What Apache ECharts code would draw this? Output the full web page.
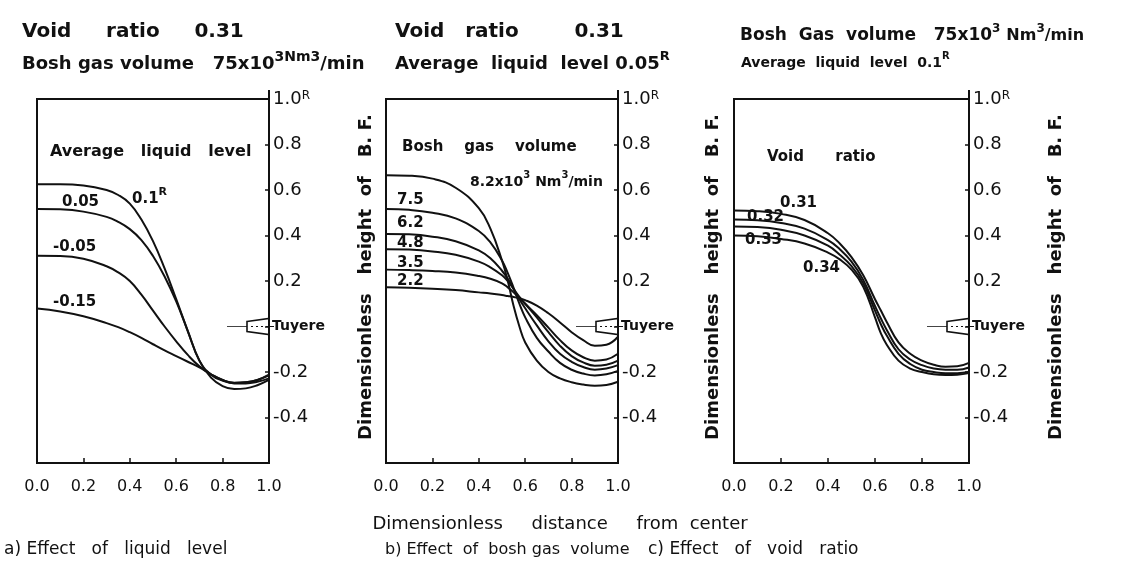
<!DOCTYPE html>
<html>
<head>
<meta charset="utf-8">
<script src="https://cdn.jsdelivr.net/npm/echarts@6/dist/echarts.min.js"></script>
<style>
  html, body { margin: 0; padding: 0; background: #fff; }
  #chart { width: 1127px; height: 573px; }
</style>
</head>
<body>
<div id="chart"></div>
<script>
// ---------- axis ticks ----------
const xTickValues = [0, 0.2, 0.4, 0.6, 0.8, 1.0];
const xTickLabels = ['0.0', '0.2', '0.4', '0.6', '0.8', '1.0'];
const yTickValues = [-0.4, -0.2, 0.2, 0.4, 0.6, 0.8, 1.0];
const yTickLabels = ['-0.4', '-0.2', '0.2', '0.4', '0.6', '0.8', '1.0{r|R}'];

// ---------- a) effect of liquid level ----------
const distA = [0, 0.1, 0.2, 0.3, 0.35, 0.4, 0.45, 0.5, 0.55, 0.6, 0.65, 0.7, 0.75, 0.8, 0.85, 0.9, 0.95, 1.0];
const level_010  = [0.625, 0.625, 0.62, 0.6, 0.578, 0.54, 0.47, 0.375, 0.255, 0.12, -0.02, -0.15, -0.225, -0.262, -0.275, -0.272, -0.258, -0.235];
const level_005  = [0.517, 0.515, 0.505, 0.482, 0.46, 0.428, 0.38, 0.31, 0.22, 0.11, -0.02, -0.15, -0.212, -0.238, -0.248, -0.245, -0.235, -0.212];
const level_m005 = [0.311, 0.31, 0.298, 0.265, 0.238, 0.2, 0.14, 0.07, 0.0, -0.065, -0.125, -0.175, -0.21, -0.235, -0.247, -0.245, -0.235, -0.215];
const level_m015 = [0.079, 0.066, 0.045, 0.015, -0.003, -0.025, -0.05, -0.078, -0.105, -0.13, -0.155, -0.18, -0.21, -0.235, -0.25, -0.25, -0.243, -0.228];

// ---------- b) effect of bosh gas volume ----------
const distB = [0, 0.1, 0.2, 0.3, 0.4, 0.45, 0.5, 0.525, 0.55, 0.575, 0.6, 0.65, 0.7, 0.75, 0.8, 0.85, 0.9, 0.95, 1.0];
const gas_82 = [0.665, 0.663, 0.65, 0.61, 0.52, 0.43, 0.29, 0.20, 0.09, 0.0, -0.07, -0.15, -0.2, -0.228, -0.245, -0.255, -0.26, -0.257, -0.243];
const gas_75 = [0.517, 0.513, 0.50, 0.475, 0.42, 0.37, 0.29, 0.235, 0.17, 0.10, 0.04, -0.05, -0.11, -0.16, -0.19, -0.207, -0.215, -0.21, -0.195];
const gas_62 = [0.407, 0.405, 0.395, 0.375, 0.335, 0.30, 0.245, 0.21, 0.165, 0.12, 0.08, 0.005, -0.065, -0.12, -0.155, -0.178, -0.19, -0.185, -0.17];
const gas_48 = [0.34, 0.338, 0.33, 0.315, 0.285, 0.26, 0.225, 0.20, 0.165, 0.13, 0.10, 0.04, -0.025, -0.085, -0.13, -0.158, -0.172, -0.168, -0.15];
const gas_35 = [0.25, 0.248, 0.244, 0.237, 0.222, 0.21, 0.19, 0.172, 0.15, 0.125, 0.10, 0.05, -0.005, -0.06, -0.105, -0.135, -0.15, -0.145, -0.12];
const gas_22 = [0.172, 0.17, 0.166, 0.16, 0.15, 0.145, 0.138, 0.134, 0.13, 0.124, 0.116, 0.092, 0.058, 0.018, -0.025, -0.06, -0.085, -0.08, -0.045];

// ---------- c) effect of void ratio ----------
const distC = [0, 0.1, 0.2, 0.3, 0.4, 0.45, 0.5, 0.55, 0.6, 0.625, 0.65, 0.7, 0.75, 0.8, 0.85, 0.9, 0.95, 1.0];
const void_031 = [0.51, 0.507, 0.495, 0.468, 0.41, 0.365, 0.305, 0.225, 0.12, 0.07, 0.02, -0.07, -0.12, -0.15, -0.168, -0.177, -0.175, -0.16];
const void_032 = [0.47, 0.467, 0.455, 0.43, 0.38, 0.34, 0.285, 0.205, 0.09, 0.035, -0.015, -0.10, -0.145, -0.17, -0.185, -0.19, -0.19, -0.18];
const void_033 = [0.44, 0.437, 0.425, 0.40, 0.355, 0.315, 0.265, 0.19, 0.07, 0.01, -0.04, -0.12, -0.165, -0.19, -0.20, -0.205, -0.205, -0.20];
const void_034 = [0.40, 0.397, 0.385, 0.365, 0.325, 0.295, 0.25, 0.175, 0.04, -0.03, -0.08, -0.15, -0.185, -0.20, -0.21, -0.213, -0.212, -0.205];

// ---------- drawing ----------
const FONT = 'DejaVu Sans';
const INK = '#111';
const grids = [
  { left: 37,  top: 99, width: 232, height: 364 },
  { left: 386, top: 99, width: 232, height: 364 },
  { left: 734, top: 99, width: 235, height: 364 }
];

function xAxisFor(i) {
  return {
    gridIndex: i, type: 'value', min: 0, max: 1, interval: 0.2,
    axisLine: { show: true, onZero: false, lineStyle: { color: INK, width: 2 } },
    axisTick: { show: true, inside: true, length: 5, lineStyle: { color: INK, width: 1.5 } },
    splitLine: { show: false },
    axisLabel: {
      color: INK, fontFamily: FONT, fontSize: 16, margin: 16,
      formatter: v => {
        const k = xTickValues.findIndex(t => Math.abs(t - v) < 1e-6);
        return k >= 0 ? xTickLabels[k] : '';
      }
    }
  };
}
function yAxisFor(i) {
  return {
    gridIndex: i, type: 'value', position: 'right', min: -0.6, max: 1.0, interval: 0.2,
    axisLine: { show: true, onZero: false, lineStyle: { color: INK, width: 2 } },
    axisTick: { show: true, inside: true, length: 4, lineStyle: { color: INK, width: 1.5 } },
    splitLine: { show: false },
    axisLabel: {
      color: INK, fontFamily: FONT, fontSize: 18, margin: 4,
      formatter: v => {
        const k = yTickValues.findIndex(t => Math.abs(t - v) < 1e-6);
        return k >= 0 ? yTickLabels[k] : '';
      },
      rich: { r: { fontSize: 12, fontFamily: FONT, color: INK, verticalAlign: 'top', lineHeight: 10 } }
    }
  };
}
function curve(i, xs, ys) {
  return {
    type: 'line', xAxisIndex: i, yAxisIndex: i,
    data: xs.map((x, k) => [x, ys[k]]),
    showSymbol: false, smooth: 0.45, silent: true,
    lineStyle: { color: INK, width: 2 }
  };
}

const series = [
  curve(0, distA, level_010), curve(0, distA, level_005), curve(0, distA, level_m005), curve(0, distA, level_m015),
  curve(1, distB, gas_82), curve(1, distB, gas_75), curve(1, distB, gas_62),
  curve(1, distB, gas_48), curve(1, distB, gas_35), curve(1, distB, gas_22),
  curve(2, distC, void_031), curve(2, distC, void_032), curve(2, distC, void_033), curve(2, distC, void_034)
];

const chart = echarts.init(document.getElementById('chart'), null, { renderer: 'canvas' });
chart.setOption({
  animation: false,
  backgroundColor: '#fff',
  grid: grids.map(g => Object.assign({ show: true, borderColor: INK, borderWidth: 2, backgroundColor: 'transparent' }, g)),
  xAxis: grids.map((g, i) => xAxisFor(i)),
  yAxis: grids.map((g, i) => yAxisFor(i)),
  series
});

// ---------- text and tuyere decorations ----------
function text(x, y, str, size, opt) {
  opt = opt || {};
  const weight = opt.weight || 'bold';
  const base = { fontSize: size, fontFamily: FONT, fill: INK, fontWeight: weight, lineHeight: size + 10, verticalAlign: 'middle' };
  const small = Object.assign({}, base, { fontSize: Math.round(size * (opt.smallScale || 0.85)) });
  const supSize = Math.round(size * (opt.supScale || 0.72));
  const sup = { fontSize: supSize, fontFamily: FONT, fill: INK, fontWeight: weight, verticalAlign: 'top', lineHeight: supSize };
  return {
    type: 'text', x, y, silent: true, rotation: opt.rotation || 0,
    style: {
      text: str, fontSize: size, fontFamily: FONT, fill: INK, fontWeight: weight,
      textAlign: opt.align || 'left', textVerticalAlign: 'middle', align: opt.align || 'left', verticalAlign: 'middle',
      rich: { m: base, n: small, s: sup }
    }
  };
}

const graphic = [];
// panel headings
graphic.push(text(22, 32, 'Void     ratio     0.31', 20));
graphic.push(text(22, 64, '{m|Bosh gas volume   75x10}{s|3}{s|Nm}{s|3}{m|/min}', 18, { supScale: 0.8 }));
graphic.push(text(395, 32, 'Void   ratio        0.31', 20));
graphic.push(text(395, 64, '{m|Average  liquid  level 0.05}{s|R}', 18));
graphic.push(text(740, 36, '{m|Bosh  Gas  volume   75x10}{s|3}{m| }{n|Nm}{s|3}{n|/min}', 17, { smallScale: 0.95 }));
graphic.push(text(741, 63, '{m|Average  liquid  level  0.1}{s|R}', 14));

// in-panel annotations
graphic.push(text(50, 152, 'Average   liquid   level', 16));
graphic.push(text(62, 202, '0.05', 15));
graphic.push(text(132, 199, '{m|0.1}{s|R}', 15));
graphic.push(text(53, 247, '-0.05', 15));
graphic.push(text(53, 302, '-0.15', 15));

graphic.push(text(402, 147, 'Bosh    gas    volume', 15));
graphic.push(text(470, 182, '{m|8.2x10}{s|3}{m| Nm}{s|3}{m|/min}', 14));
graphic.push(text(397, 200, '7.5', 15));
graphic.push(text(397, 223, '6.2', 15));
graphic.push(text(397, 243, '4.8', 15));
graphic.push(text(397, 263, '3.5', 15));
graphic.push(text(397, 281, '2.2', 15));

graphic.push(text(767, 157, 'Void      ratio', 15));
graphic.push(text(780, 203, '0.31', 15));
graphic.push(text(747, 217, '0.32', 15));
graphic.push(text(745, 240, '0.33', 15));
graphic.push(text(803, 268, '0.34', 15));

// vertical axis titles
[366, 713, 1056].forEach(x => {
  graphic.push(text(x, 277, 'Dimensionless   height  of   B. F.', 18, { rotation: Math.PI / 2, align: 'center' }));
});

// bottom texts
graphic.push(text(560, 524, 'Dimensionless     distance     from  center', 18, { align: 'center', weight: 'normal' }));
graphic.push(text(4, 550, 'a) Effect   of   liquid   level', 17, { weight: 'normal' }));
graphic.push(text(385, 550, 'b) Effect  of  bosh gas  volume', 16, { weight: 'normal' }));
graphic.push(text(648, 550, 'c) Effect   of   void   ratio', 17, { weight: 'normal' }));

// tuyere marker at height 0 on each panel
grids.forEach((g, i) => {
  const p = chart.convertToPixel({ gridIndex: i }, [1, 0]);
  const rx = p[0], y0 = p[1];
  graphic.push({ type: 'line', silent: true, shape: { x1: rx - 42, y1: y0, x2: rx, y2: y0 }, style: { stroke: '#444', lineWidth: 1 } });
  graphic.push({ type: 'polygon', silent: true,
    shape: { points: [[rx - 22, y0 - 5], [rx, y0 - 8], [rx, y0 + 8], [rx - 22, y0 + 5]] },
    style: { fill: '#fff', stroke: INK, lineWidth: 1.6 } });
  graphic.push({ type: 'line', silent: true, shape: { x1: rx - 18, y1: y0, x2: rx, y2: y0 }, style: { stroke: INK, lineWidth: 1, lineDash: [2, 3] } });
  graphic.push({ type: 'line', silent: true, shape: { x1: rx, y1: y0, x2: rx + 5, y2: y0 }, style: { stroke: INK, lineWidth: 1 } });
  graphic.push(text(rx + 3, y0, 'Tuyere', 14));
  // right axis reaches a little above the frame
  graphic.push({ type: 'line', silent: true, shape: { x1: rx, y1: g.top - 9, x2: rx, y2: g.top }, style: { stroke: INK, lineWidth: 2 } });
});

chart.setOption({ graphic });
</script>
</body>
</html>
